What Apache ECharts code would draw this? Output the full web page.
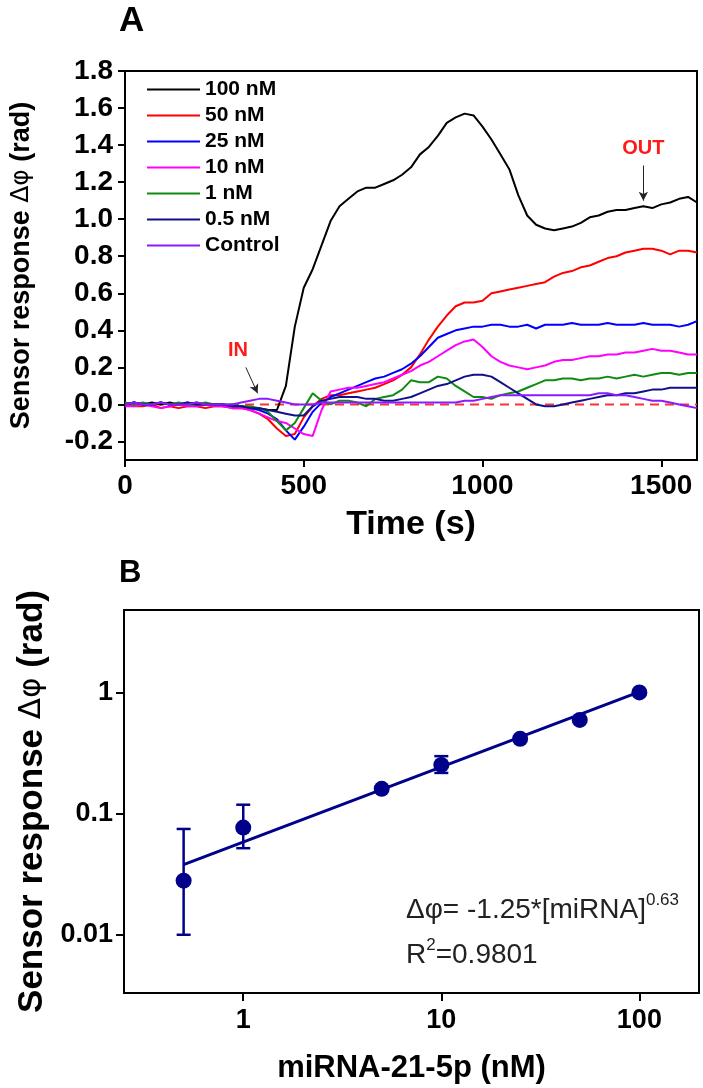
<!DOCTYPE html>
<html><head><meta charset="utf-8">
<script src="https://cdn.jsdelivr.net/npm/echarts@6/dist/echarts.min.js"></script>
<style>html,body{margin:0;padding:0;background:#fff}#c{width:703px;height:1088px}</style>
</head><body><div id="c"></div>
<script>
// ---------- Panel A data ----------
const timeS = [0,25,50,75,100,125,150,175,200,225,250,275,300,325,350,375,400,425,450,475,500,525,550,575,600,625,650,675,700,725,750,775,800,825,850,875,900,925,950,975,1000,1025,1050,1075,1100,1125,1150,1175,1200,1225,1250,1275,1300,1325,1350,1375,1400,1425,1450,1475,1500,1525,1550,1575,1600];
const seriesNames = ['100 nM','50 nM','25 nM','10 nM','1 nM','0.5 nM','Control'];
const seriesColors = ['#000000','#ff0000','#0000ff','#ff00ff','#108a10','#10108a','#8a1aff'];
const y100 = [0.00,0.01,0.00,0.01,0.00,0.01,0.00,0.00,0.01,0.00,0.00,0.00,-0.01,-0.01,-0.02,-0.02,-0.03,-0.03,0.10,0.42,0.63,0.73,0.86,0.99,1.07,1.11,1.15,1.17,1.17,1.19,1.21,1.24,1.28,1.35,1.39,1.45,1.52,1.55,1.57,1.56,1.50,1.43,1.35,1.27,1.13,1.02,0.97,0.95,0.94,0.95,0.96,0.98,1.01,1.02,1.04,1.05,1.05,1.06,1.07,1.06,1.08,1.09,1.11,1.12,1.09];
const y50 = [0.00,-0.01,-0.01,0.00,-0.02,-0.01,-0.02,-0.01,-0.01,-0.02,-0.01,-0.01,-0.02,-0.02,-0.03,-0.05,-0.08,-0.13,-0.17,-0.16,-0.07,-0.01,0.03,0.05,0.05,0.06,0.07,0.08,0.09,0.11,0.13,0.16,0.20,0.27,0.35,0.42,0.48,0.53,0.55,0.55,0.56,0.60,0.61,0.62,0.63,0.64,0.65,0.66,0.69,0.71,0.72,0.74,0.75,0.77,0.79,0.80,0.82,0.83,0.84,0.84,0.83,0.81,0.83,0.83,0.82];
const y25 = [0.00,0.01,0.00,0.00,0.01,0.00,0.00,0.01,0.00,0.00,0.00,-0.01,-0.01,-0.01,-0.02,-0.03,-0.05,-0.08,-0.14,-0.19,-0.12,-0.04,0.01,0.04,0.06,0.08,0.10,0.12,0.14,0.15,0.17,0.19,0.22,0.26,0.31,0.36,0.38,0.40,0.41,0.42,0.42,0.43,0.43,0.42,0.42,0.43,0.41,0.43,0.43,0.43,0.44,0.43,0.43,0.43,0.44,0.43,0.43,0.43,0.44,0.43,0.43,0.43,0.42,0.43,0.45];
const y10 = [-0.01,-0.01,0.00,-0.01,-0.02,-0.01,0.00,-0.01,-0.01,0.00,-0.01,-0.01,-0.02,-0.02,-0.03,-0.05,-0.07,-0.09,-0.10,-0.13,-0.16,-0.17,-0.03,0.07,0.08,0.09,0.09,0.10,0.11,0.12,0.14,0.16,0.18,0.21,0.23,0.26,0.29,0.32,0.34,0.35,0.31,0.26,0.23,0.21,0.20,0.19,0.20,0.21,0.23,0.24,0.24,0.25,0.26,0.26,0.27,0.27,0.28,0.28,0.29,0.30,0.29,0.29,0.28,0.27,0.27];
const y1 = [0.01,0.00,0.01,0.00,0.01,0.00,0.01,0.00,0.00,0.01,0.00,0.00,0.00,-0.01,-0.01,-0.02,-0.04,-0.09,-0.14,-0.10,-0.02,0.06,0.02,0.00,0.02,0.02,0.01,-0.01,0.03,0.04,0.05,0.08,0.13,0.12,0.12,0.15,0.14,0.10,0.07,0.04,0.04,0.03,0.05,0.06,0.07,0.09,0.11,0.13,0.13,0.14,0.14,0.13,0.14,0.14,0.15,0.14,0.15,0.16,0.15,0.16,0.17,0.17,0.16,0.17,0.17];
const y05 = [0.00,0.01,0.00,0.00,0.01,0.00,0.00,0.01,0.00,0.00,0.00,0.00,-0.01,-0.01,-0.02,-0.02,-0.03,-0.04,-0.05,-0.06,-0.06,-0.01,0.02,0.03,0.04,0.04,0.04,0.03,0.03,0.02,0.02,0.03,0.04,0.06,0.08,0.10,0.11,0.13,0.15,0.16,0.16,0.15,0.12,0.09,0.06,0.03,0.00,-0.01,-0.01,0.00,0.01,0.02,0.03,0.04,0.05,0.05,0.06,0.06,0.07,0.08,0.08,0.09,0.09,0.09,0.09];
const yCtrl = [0.00,0.01,0.00,0.00,0.01,0.00,0.00,0.00,0.01,0.00,0.00,0.00,0.00,0.01,0.02,0.03,0.03,0.02,0.01,0.00,0.00,0.00,0.01,0.01,0.01,0.01,0.01,0.01,0.01,0.01,0.01,0.01,0.01,0.01,0.01,0.01,0.01,0.01,0.02,0.02,0.03,0.04,0.05,0.05,0.05,0.05,0.05,0.05,0.05,0.05,0.05,0.05,0.05,0.06,0.06,0.05,0.05,0.04,0.03,0.02,0.02,0.01,0.00,-0.01,-0.02];
const baseX = [0,1600];
const baseY = [0,0];
const yTicksA = [-0.2,0,0.2,0.4,0.6,0.8,1.0,1.2,1.4,1.6,1.8];
const xTicksA = [0,500,1000,1500];
// annotations (data coordinates)
const inLabel = [316,0.29], inArrow = [[338,0.20],[371,0.06]];
const outLabel = [1450,1.38], outArrow = [[1450,1.29],[1450,1.10]];

// ---------- Panel B data ----------
const conc = [0.5,1,5,10,25,50,100];
const resp = [0.028,0.077,0.161,0.254,0.417,0.598,1.01];
const errLow = [0.010,0.052,0.155,0.218,0.405,0.580,0.990];
const errHigh = [0.075,0.119,0.167,0.300,0.430,0.615,1.040];
const fitX = [0.5,100];
const fitY = [0.038,1.02];
const xTicksB = [1,10,100];
const yTicksB = [0.01,0.1,1];

const FF = "'Liberation Sans', Arial, sans-serif";
const NAVY = '#00008b';
const chart = echarts.init(document.getElementById('c'), null, {renderer:'canvas'});

const lineSeries = [y100,y50,y25,y10,y1,y05,yCtrl].map((arr,k)=>({
  name: seriesNames[k], type:'line', xAxisIndex:0, yAxisIndex:0,
  data: timeS.map((t,i)=>[t,arr[i]]), symbol:'none', showSymbol:false,
  lineStyle:{color:seriesColors[k], width:2}, itemStyle:{color:seriesColors[k]},
  animation:false, z: 3
}));

const axisLineStyle = {onZero:false, lineStyle:{color:'#000', width:2}};

chart.setOption({
  animation:false,
  backgroundColor:'#fff',
  textStyle:{fontFamily:FF},
  grid:[
    {left:124, right:6, top:71, bottom:628, show:true, borderColor:'#000', borderWidth:2, containLabel:false},
    {left:124, right:4, top:610, bottom:95, show:true, borderColor:'#000', borderWidth:2, containLabel:false}
  ],
  legend:{
    data: seriesNames, orient:'vertical', left:147, top:79, padding:0,
    icon:'rect', itemWidth:53, itemHeight:2, itemGap:5,
    textStyle:{fontFamily:FF, fontWeight:'bold', fontSize:21, color:'#000', lineHeight:21}
  },
  graphic:[
    {type:'text', left:119, top:4, style:{text:'A', font:"bold 35px 'Liberation Sans', Arial", fill:'#000'}},
    {type:'text', left:119, top:558, style:{text:'B', font:"bold 31px 'Liberation Sans', Arial", fill:'#000'}},
    {type:'text', left:406, top:892, style:{
      text:'{a|Δφ= -1.25*[miRNA]}{s|0.63}', rich:{
        a:{fontFamily:FF, fontSize:28, fill:'#222', lineHeight:32, verticalAlign:'bottom'},
        s:{fontFamily:FF, fontSize:17, fill:'#222', lineHeight:32, verticalAlign:'top'}
      }}},
    {type:'text', left:406, top:937, style:{
      text:'{a|R}{s|2}{a|=0.9801}', rich:{
        a:{fontFamily:FF, fontSize:28, fill:'#222', lineHeight:32, verticalAlign:'bottom'},
        s:{fontFamily:FF, fontSize:17, fill:'#222', lineHeight:32, verticalAlign:'top'}
      }}}
  ],
  xAxis:[
    {type:'value', gridIndex:0, min:0, max:1600, interval:500,
      axisLine:axisLineStyle, splitLine:{show:false},
      axisTick:{inside:false, length:7, lineStyle:{width:2,color:'#000'}, customValues:xTicksA},
      axisLabel:{customValues:xTicksA, margin:12, fontFamily:FF, fontWeight:'bold', fontSize:28, color:'#000',
        formatter:v=>String(v)},
      name:'Time (s)', nameLocation:'middle', nameGap:48,
      nameTextStyle:{fontFamily:FF, fontWeight:'bold', fontSize:34, color:'#000'}},
    {type:'log', logBase:10, gridIndex:1, min:0.25, max:200,
      axisLine:axisLineStyle, splitLine:{show:false}, minorTick:{show:false},
      axisTick:{inside:false, length:8, lineStyle:{width:2,color:'#000'}, customValues:xTicksB},
      axisLabel:{customValues:xTicksB, margin:14, fontFamily:FF, fontWeight:'bold', fontSize:27, color:'#000',
        formatter:v=>String(Math.round(v))},
      name:'miRNA-21-5p (nM)', nameLocation:'middle', nameGap:60,
      nameTextStyle:{fontFamily:FF, fontWeight:'bold', fontSize:31, color:'#000'}}
  ],
  yAxis:[
    {type:'value', gridIndex:0, min:-0.3, max:1.8,
      axisLine:axisLineStyle, splitLine:{show:false},
      axisTick:{inside:false, length:7, lineStyle:{width:2,color:'#000'}, customValues:yTicksA},
      axisLabel:{customValues:yTicksA, margin:12, fontFamily:FF, fontWeight:'bold', fontSize:28, color:'#000',
        formatter:v=>v.toFixed(1)},
      name:'{b|Sensor response }{s|Δφ}{b| (rad)}', nameLocation:'middle', nameGap:90,
      nameTextStyle:{rich:{
        b:{fontFamily:FF, fontWeight:'bold', fontSize:27, color:'#000'},
        s:{fontFamily:"'DejaVu Sans', sans-serif", fontWeight:'normal', fontSize:25, color:'#000'}}}},
    {type:'log', logBase:10, gridIndex:1, min:0.0033, max:4.85,
      axisLine:axisLineStyle, splitLine:{show:false}, minorTick:{show:false},
      axisTick:{inside:false, length:8, lineStyle:{width:2,color:'#000'}, customValues:yTicksB},
      axisLabel:{customValues:yTicksB, margin:11, fontFamily:FF, fontWeight:'bold', fontSize:27, color:'#000',
        formatter:v=>(v>=1?String(Math.round(v)):String(+Number(v).toPrecision(1)))},
      name:'{b|Sensor response }{s|Δφ}{b| (rad)}', nameLocation:'middle', nameGap:73,
      nameTextStyle:{rich:{
        b:{fontFamily:FF, fontWeight:'bold', fontSize:35, color:'#000'},
        s:{fontFamily:"'DejaVu Sans', sans-serif", fontWeight:'normal', fontSize:31, color:'#000'}}}}
  ],
  series:[
    {name:'baseline', type:'line', xAxisIndex:0, yAxisIndex:0,
      data: baseX.map((x,i)=>[x,baseY[i]]), symbol:'none',
      lineStyle:{color:'#ff3030', width:2, type:[9,6]}, z:2,
      markLine:{silent:true, symbol:['none','arrow'], symbolSize:[7,9],
        lineStyle:{color:'#222', width:1, type:'solid'}, label:{show:false},
        data:[[{coord:inArrow[0]},{coord:inArrow[1]}],[{coord:outArrow[0]},{coord:outArrow[1]}]]},
      markPoint:{silent:true, symbol:'circle', symbolSize:0,
        label:{show:true, position:'inside', formatter:'{b}', color:'#ff1a1a', fontFamily:FF, fontWeight:'bold', fontSize:20},
        data:[{name:'IN', coord:inLabel},{name:'OUT', coord:outLabel}]}},
    ...lineSeries,
    {name:'fit', type:'line', xAxisIndex:1, yAxisIndex:1,
      data: fitX.map((x,i)=>[x,fitY[i]]), symbol:'none',
      lineStyle:{color:NAVY, width:3}, z:3},
    {name:'err', type:'custom', xAxisIndex:1, yAxisIndex:1,
      data: conc.map((c,i)=>[c,errLow[i],errHigh[i]]),
      encode:{x:0, y:[1,2]}, z:4,
      renderItem:(params, api)=>{
        const x = api.value(0);
        const lo = api.coord([x, api.value(1)]);
        const hi = api.coord([x, api.value(2)]);
        const w = 7;
        const st = {stroke:NAVY, lineWidth:2.5};
        return {type:'group', children:[
          {type:'line', shape:{x1:lo[0],y1:lo[1],x2:hi[0],y2:hi[1]}, style:st},
          {type:'line', shape:{x1:lo[0]-w,y1:lo[1],x2:lo[0]+w,y2:lo[1]}, style:st},
          {type:'line', shape:{x1:hi[0]-w,y1:hi[1],x2:hi[0]+w,y2:hi[1]}, style:st}
        ]};
      }},
    {name:'points', type:'scatter', xAxisIndex:1, yAxisIndex:1,
      data: conc.map((c,i)=>[c,resp[i]]), symbol:'circle', symbolSize:16,
      itemStyle:{color:NAVY, opacity:1}, z:5}
  ]
});
</script>
</body></html>
